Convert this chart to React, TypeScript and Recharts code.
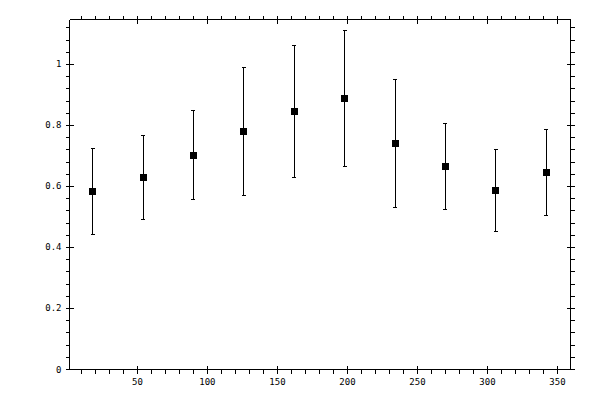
import React from "react";
import { ScatterChart, Scatter, XAxis, YAxis, ErrorBar } from "recharts";

// angle positions and measured values with symmetric errors
const angles = [18, 54, 90, 126, 162, 198, 234, 270, 306, 342];
const means = [0.584, 0.63, 0.702, 0.78, 0.846, 0.889, 0.741, 0.666, 0.587, 0.646];
const errors = [0.141, 0.137, 0.146, 0.21, 0.216, 0.222, 0.211, 0.142, 0.133, 0.141];

const xMajor = [50, 100, 150, 200, 250, 300, 350];
const yMajor = [0, 0.2, 0.4, 0.6, 0.8, 1];

const xTicks = Array.from({ length: 35 }, (_, i) => (i + 1) * 10);
const yTicks = Array.from({ length: 29 }, (_, i) => Math.round(i * 4) / 100);

const data = angles.map((a, i) => ({ x: a, y: means[i], err: errors[i] }));

const FONT = "'DejaVu Sans Mono', monospace";

const isMajorX = (v: number) => xMajor.includes(v);
const isMajorY = (v: number) => yMajor.some((m) => Math.abs(m - v) < 1e-6);

const BottomTick = (props: any) => {
  const { x, y, payload } = props;
  const v = payload.value;
  const major = isMajorX(v);
  return (
    <g>
      <line x1={x} x2={x} y1={major ? y - 4 : y} y2={y + 4} stroke="#000" />
      {major && (
        <text x={x} y={y + 15} textAnchor="middle" fontSize={9} fontFamily={FONT} fill="#000">
          {v}
        </text>
      )}
    </g>
  );
};

const TopTick = (props: any) => {
  const { x, y, payload } = props;
  const major = isMajorX(payload.value);
  return <line x1={x} x2={x} y1={y - 4} y2={major ? y + 4 : y} stroke="#000" />;
};

const LeftTick = (props: any) => {
  const { x, y, payload } = props;
  const v = payload.value;
  const major = isMajorY(v);
  return (
    <g>
      <line x1={x - 4} x2={major ? x + 4 : x} y1={y} y2={y} stroke="#000" />
      {major && (
        <text x={x - 8} y={y + 3} textAnchor="end" fontSize={9} fontFamily={FONT} fill="#000">
          {String(Math.round(v * 10) / 10)}
        </text>
      )}
    </g>
  );
};

const RightTick = (props: any) => {
  const { x, y, payload } = props;
  const major = isMajorY(payload.value);
  return <line x1={major ? x - 4 : x} x2={x + 4} y1={y} y2={y} stroke="#000" />;
};

const Square = (props: any) => {
  const { cx, cy } = props;
  return <rect x={cx - 3.5} y={cy - 3.5} width={7} height={7} fill="#000" />;
};

export default function App() {
  const xDomain = [1.5, 359.3];
  const yDomain = [0, 1.1475];
  return (
    <div
      style={{
        position: "absolute",
        left: 0,
        top: 0,
        background: "#fff",
        shapeRendering: "crispEdges",
      }}
    >
      <ScatterChart
        width={600}
        height={400}
        margin={{ top: 18.5, right: 28.5, bottom: 29.5, left: 68.5 }}
      >
        <XAxis
          xAxisId="b"
          type="number"
          dataKey="x"
          orientation="bottom"
          domain={xDomain}
          allowDataOverflow
          ticks={xTicks}
          interval={0}
          height={1}
          tickSize={0}
          tickMargin={0}
          tick={<BottomTick />}
          axisLine={{ stroke: "#000" }}
        />
        <XAxis
          xAxisId="t"
          type="number"
          dataKey="x"
          orientation="top"
          domain={xDomain}
          allowDataOverflow
          ticks={xTicks}
          interval={0}
          height={1}
          tickSize={0}
          tickMargin={0}
          tick={<TopTick />}
          axisLine={{ stroke: "#000" }}
        />
        <YAxis
          yAxisId="l"
          type="number"
          dataKey="y"
          orientation="left"
          domain={yDomain}
          allowDataOverflow
          ticks={yTicks}
          interval={0}
          width={1}
          tickSize={0}
          tickMargin={0}
          tick={<LeftTick />}
          axisLine={{ stroke: "#000" }}
        />
        <YAxis
          yAxisId="r"
          type="number"
          dataKey="y"
          orientation="right"
          domain={yDomain}
          allowDataOverflow
          ticks={yTicks}
          interval={0}
          width={1}
          tickSize={0}
          tickMargin={0}
          tick={<RightTick />}
          axisLine={{ stroke: "#000" }}
        />
        <Scatter
          data={data}
          xAxisId="b"
          yAxisId="l"
          fill="#000"
          shape={<Square />}
          isAnimationActive={false}
        >
          <ErrorBar
            dataKey="err"
            direction="y"
            width={2}
            stroke="#000"
            strokeWidth={1}
            isAnimationActive={false}
          />
        </Scatter>
      </ScatterChart>
    </div>
  );
}
